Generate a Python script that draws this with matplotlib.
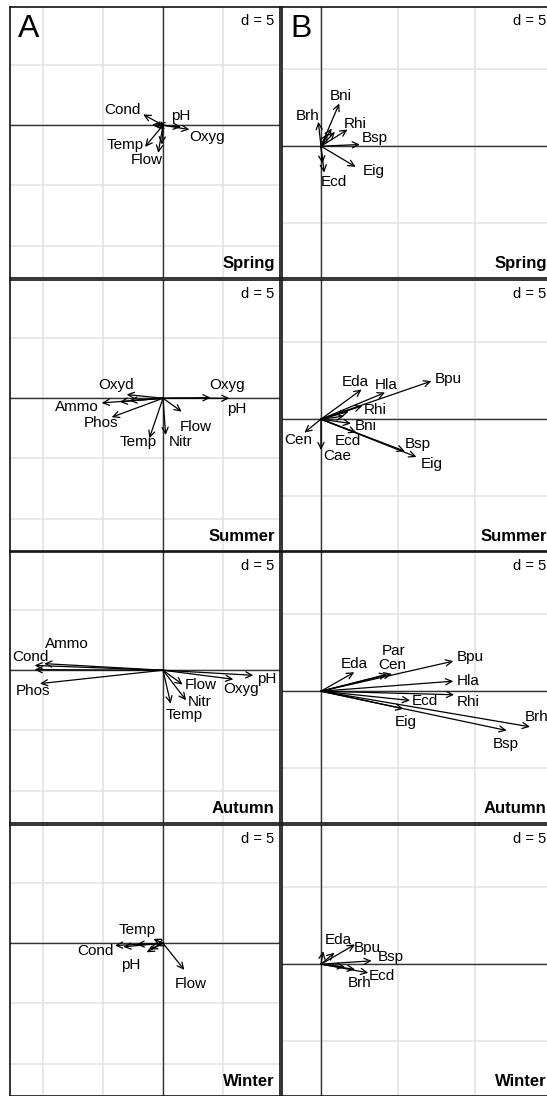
import numpy as np
import matplotlib
matplotlib.use('Agg')
import matplotlib.pyplot as plt

plt.rcParams['font.family'] = ['Liberation Sans', 'DejaVu Sans']

seasons = ['Spring', 'Summer', 'Autumn', 'Winter']

# --- panel A: environmental variables (arrow tips, label centres) ---
spring_env = ['Cond', 'pH', 'Oxyg', 'Temp', 'Flow', '', '', '', '']
spring_env_x = [-1.65, 1.5, 2.2, -1.5, -0.4, -0.1, -0.9, -0.7, -0.5]
spring_env_y = [0.9, -0.15, -0.36, -1.8, -2.3, -1.6, 0.05, -0.1, 0.1]
spring_env_lx = [-3.4, 1.5, 3.65, -3.15, -1.35, 0, 0, 0, 0]
spring_env_ly = [1.25, 0.8, -0.97, -1.67, -2.92, 0, 0, 0, 0]

summer_env = ['Oxyd', 'Ammo', 'Phos', 'Temp', 'Nitr', 'Flow', 'Oxyg', 'pH', '', '']
summer_env_x = [-3.03, -5.11, -4.28, -1.14, 0.22, 1.56, 3.97, 5.53, -3.6, -2.8]
summer_env_y = [0.31, -0.39, -1.58, -3.33, -3.06, -1.11, 0.05, 0.0, -0.3, -0.2]
summer_env_lx = [-3.92, -7.14, -5.17, -2.06, 1.5, 2.75, 5.31, 6.14, 0, 0]
summer_env_ly = [1.06, -0.75, -2.06, -3.67, -3.61, -2.42, 1.11, -0.89, 0, 0]

autumn_env = ['Cond', 'Ammo', 'Phos', 'Flow', 'Nitr', 'Temp', 'Oxyg', 'pH', '']
autumn_env_x = [-10.7, -9.9, -10.25, 1.64, 1.92, 0.64, 5.86, 7.53, -10.7]
autumn_env_y = [0.4, 0.55, -1.11, -1.19, -2.5, -2.78, -0.75, -0.42, 0.05]
autumn_env_lx = [-11.03, -8.03, -10.86, 3.14, 3.08, 1.78, 6.47, 8.64, 0]
autumn_env_ly = [1.11, 2.14, -1.75, -1.25, -2.64, -3.75, -1.58, -0.69, 0]

winter_env = ['Temp', 'Cond', 'pH', 'Flow', '', '', '', '']
winter_env_x = [-0.8, -4.0, -1.36, 1.78, -3.3, -2.2, -1.1, -0.6]
winter_env_y = [0.36, -0.19, -0.75, -2.22, -0.3, -0.1, -0.5, -0.2]
winter_env_lx = [-2.14, -5.67, -2.67, 2.33, 0, 0, 0, 0]
winter_env_ly = [1.06, -0.61, -1.81, -3.39, 0, 0, 0, 0]

# --- panel B: taxa ---
spring_tax = ['Brh', 'Bni', 'Rhi', 'Bsp', 'Eig', 'Ecd', '', '', '', '']
spring_tax_x = [-0.17, 1.19, 1.73, 2.53, 2.25, 0.21, 0.69, 0.91, 0.43, 0.09]
spring_tax_y = [1.58, 2.77, 1.08, 0.11, -1.34, -1.71, 1.15, 0.93, 0.82, -1.12]
spring_tax_lx = [-0.87, 1.3, 2.21, 3.46, 3.4, 0.87, 0, 0, 0, 0]
spring_tax_ly = [1.97, 3.27, 1.47, 0.5, -1.62, -2.32, 0, 0, 0, 0]

summer_tax = ['Eda', 'Hla', 'Bpu', 'Rhi', 'Bni', 'Cen', 'Ecd', 'Cae', 'Bsp', 'Eig', '', '']
summer_tax_x = [2.64, 4.16, 7.17, 2.68, 1.95, -1.08, 2.3, 0.0, 5.45, 6.2, 1.8, 1.5]
summer_tax_y = [1.93, 1.73, 2.47, 0.86, -0.28, -0.87, -0.87, -2.0, -2.08, -2.45, 0.5, 0.2]
summer_tax_lx = [2.25, 4.22, 8.27, 3.55, 2.9, -1.47, 1.73, 1.06, 6.28, 7.19, 0, 0]
summer_tax_ly = [2.42, 2.25, 2.6, 0.58, -0.45, -1.32, -1.43, -2.4, -1.58, -2.88, 0, 0]

autumn_tax = ['Par', 'Cen', 'Eda', 'Bpu', 'Hla', 'Rhi', 'Ecd', 'Eig', 'Brh', 'Bsp']
autumn_tax_x = [4.3, 4.59, 2.16, 8.59, 8.59, 8.64, 5.78, 5.35, 13.57, 12.06]
autumn_tax_y = [1.1, 1.13, 1.23, 1.95, 0.65, -0.23, -0.6, -1.14, -2.31, -2.55]
autumn_tax_lx = [4.7, 4.63, 2.16, 9.68, 9.57, 9.57, 6.75, 5.52, 14.0, 11.99]
autumn_tax_ly = [2.58, 1.71, 1.78, 2.19, 0.69, -0.67, -0.65, -1.97, -1.69, -3.42]

winter_tax = ['Eda', 'Bpu', 'Bsp', 'Ecd', 'Brh', '', '']
winter_tax_x = [0.87, 2.21, 3.29, 3.07, 2.21, 0.15, 1.56]
winter_tax_y = [0.74, 1.28, 0.22, -0.56, -0.34, 0.84, -0.17]
winter_tax_lx = [1.13, 3.03, 4.55, 3.98, 2.53, 0, 0]
winter_tax_ly = [1.56, 1.06, 0.47, -0.74, -1.21, 0, 0]

env = [(spring_env, spring_env_x, spring_env_y, spring_env_lx, spring_env_ly),
       (summer_env, summer_env_x, summer_env_y, summer_env_lx, summer_env_ly),
       (autumn_env, autumn_env_x, autumn_env_y, autumn_env_lx, autumn_env_ly),
       (winter_env, winter_env_x, winter_env_y, winter_env_lx, winter_env_ly)]
tax = [(spring_tax, spring_tax_x, spring_tax_y, spring_tax_lx, spring_tax_ly),
       (summer_tax, summer_tax_x, summer_tax_y, summer_tax_lx, summer_tax_ly),
       (autumn_tax, autumn_tax_x, autumn_tax_y, autumn_tax_lx, autumn_tax_ly),
       (winter_tax, winter_tax_x, winter_tax_y, winter_tax_lx, winter_tax_ly)]

W, H = 547, 1096
fig = plt.figure(figsize=(W / 100, H / 100), dpi=100)

row_tops = [7, 280, 552, 825]
ph = 271


def draw_panel(ax, xlim, ylim, data, season, letter):
    names, xs, ys, lxs, lys = data
    ax.set_xticks(np.arange(-15, 20, 5))
    ax.set_yticks(np.arange(-15, 15, 5))
    ax.set_xlim(xlim)
    ax.set_ylim(ylim)
    ax.grid(color='#e2e2e2', lw=1.1)
    ax.set_axisbelow(True)
    ax.tick_params(length=0, labelbottom=False, labelleft=False)
    ax.axhline(0, color='#333333', lw=1)
    ax.axvline(0, color='#333333', lw=1)
    for sp in ax.spines.values():
        sp.set_color('#111111')
        sp.set_linewidth(1.2)

    # arrows from the origin
    for i in range(len(names)):
        ax.annotate('', xy=(xs[i], ys[i]), xytext=(0, 0),
                    arrowprops=dict(arrowstyle='->,head_length=0.45,head_width=0.22',
                                    lw=0.9, color='black',
                                    shrinkA=0, shrinkB=0, mutation_scale=10))
    for i in range(len(names)):
        if names[i]:
            ax.text(lxs[i], lys[i], names[i], ha='center', va='center', fontsize=11)

    ax.text(0.98, 0.975, 'd = 5', transform=ax.transAxes, ha='right', va='top',
            fontsize=10.5, bbox=dict(facecolor='white', edgecolor='none', pad=1))
    ax.text(0.98, 0.025, season, transform=ax.transAxes, ha='right', va='bottom',
            fontsize=12, fontweight='bold')
    if letter:
        ax.text(0.03, 0.975, letter, transform=ax.transAxes, ha='left', va='top',
                fontsize=23)


for r in range(4):
    top = row_tops[r]
    y0 = 1 - (top + ph) / H
    axl = fig.add_axes([10 / W, y0, 270 / W, ph / H])
    draw_panel(axl, (-12.75, 9.75), (-12.7, 9.83), env[r], seasons[r], 'A' if r == 0 else None)
    axr = fig.add_axes([282 / W, y0, 270 / W, ph / H])
    draw_panel(axr, (-2.53, 15.0), (-8.55, 9.03), tax[r], seasons[r], 'B' if r == 0 else None)

plt.savefig('out.png', dpi=100)
